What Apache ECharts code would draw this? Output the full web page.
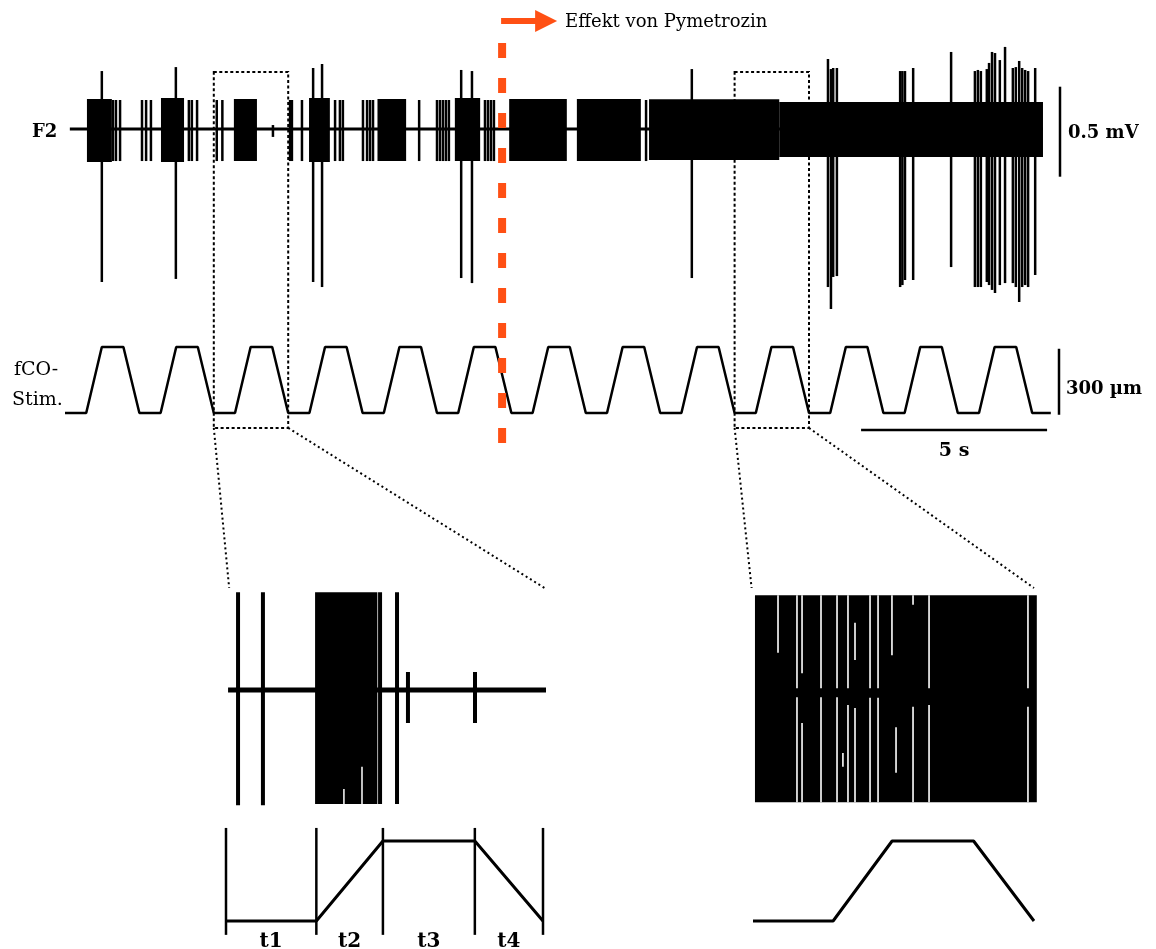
<!DOCTYPE html>
<html><head><meta charset="utf-8">
<script src="https://cdn.jsdelivr.net/npm/echarts@6/dist/echarts.min.js"></script>
<style>html,body{margin:0;padding:0;background:#fff}#c{width:1156px;height:949px}</style>
</head><body><div id="c"></div>
<script>
// ---------------- DATA ----------------
// fCO stimulus (µm): cycle start times (s) and vertex template
const stimCycleStarts = [0, 2, 4, 6, 8, 10, 12, 14, 16, 18, 20, 22, 24];
const stimPhaseTimes  = [0, 0.57, 0.99, 1.57];   // low, ramp-up start, plateau start, ramp-down start
const stimPhaseValues = [0, 0, 300, 300];
const stimTail = [[26.0, 0], [26.5, 0]];

// F2 recording (mV vs s)
const f2Baseline = [[0.13, 0], [26.29, 0]];
// bursts: [tStart, tEnd, top, bottom]
const f2Bursts = [
  [0.59, 1.26, 0.167, -0.183],
  [2.58, 3.20, 0.172, -0.183],
  [4.54, 5.16, 0.167, -0.178],
  [6.56, 7.12, 0.172, -0.183],
  [8.40, 9.17, 0.167, -0.178],
  [10.48, 11.16, 0.172, -0.178],
  [11.94, 13.49, 0.167, -0.178],
  [13.76, 15.48, 0.167, -0.178],
  [15.70, 19.20, 0.165, -0.172],
  [19.20, 26.29, 0.150, -0.156]
];
// single units at burst amplitude: [t, top, bottom]
const f2Units = [
  [1.29, 0.161, -0.178], [1.37, 0.161, -0.178], [1.48, 0.161, -0.178],
  [2.07, 0.161, -0.178], [2.18, 0.161, -0.178], [2.31, 0.161, -0.178],
  [3.33, 0.161, -0.178], [3.41, 0.161, -0.178], [3.55, 0.161, -0.178],
  [4.08, 0.161, -0.178], [4.23, 0.161, -0.178],
  [5.59, 0.022, -0.044],
  [6.05, 0.161, -0.178], [6.10, 0.161, -0.178], [6.37, 0.161, -0.178],
  [7.26, 0.161, -0.178], [7.39, 0.161, -0.178], [7.47, 0.161, -0.178],
  [8.01, 0.161, -0.178], [8.12, 0.161, -0.178], [8.20, 0.161, -0.178], [8.28, 0.161, -0.178],
  [9.52, 0.161, -0.178],
  [10.00, 0.161, -0.178], [10.08, 0.161, -0.178], [10.16, 0.161, -0.178], [10.24, 0.161, -0.178], [10.32, 0.161, -0.178],
  [11.29, 0.161, -0.178], [11.37, 0.161, -0.178], [11.45, 0.161, -0.178], [11.53, 0.161, -0.178],
  [15.62, 0.161, -0.178]
];
// large spikes: [t, top, bottom]
const f2LargeSpikes = [
  [0.99, 0.322, -0.850], [2.98, 0.344, -0.833], [6.67, 0.339, -0.850], [6.91, 0.361, -0.878],
  [10.65, 0.328, -0.828], [10.94, 0.322, -0.856], [16.85, 0.333, -0.828],
  [20.51, 0.389, -0.878], [20.59, 0.333, -1.000], [20.65, 0.339, -0.822], [20.75, 0.339, -0.817],
  [22.45, 0.322, -0.878], [22.51, 0.322, -0.867], [22.58, 0.322, -0.839], [22.80, 0.339, -0.839],
  [23.82, 0.428, -0.767],
  [24.46, 0.322, -0.878], [24.54, 0.328, -0.878], [24.62, 0.322, -0.878], [24.78, 0.333, -0.850],
  [24.84, 0.367, -0.867], [24.92, 0.428, -0.894], [25.00, 0.422, -0.911], [25.13, 0.383, -0.867],
  [25.27, 0.456, -0.856], [25.48, 0.339, -0.856], [25.56, 0.344, -0.878], [25.65, 0.378, -0.961],
  [25.73, 0.339, -0.878], [25.81, 0.328, -0.867], [25.89, 0.322, -0.878], [26.08, 0.339, -0.811]
];

// Zoom window 1 (4–6 s)
const zoom1Window = [4, 6];
const zoom1Baseline = [[4.013, 0], [6.032, 0]];
const zoom1Bursts = [[4.562, 4.955, 0.163, -0.190]];
const zoom1Spikes = [
  [4.076, 0.163, -0.192], [4.233, 0.163, -0.192], [4.972, 0.163, -0.190],
  [5.079, 0.163, -0.190], [5.148, 0.030, -0.055], [5.571, 0.030, -0.055]
];
const zoom1Gaps = [[4.744, -0.165, -0.2], [4.858, -0.128, -0.2]];
const zoomPhaseBounds = [4.0, 4.57, 4.99, 5.57, 6.0];
const zoomPhaseLabels = ['t1', 't2', 't3', 't4'];

// Zoom window 2 (18–20 s)
const zoom2Window = [18, 20];
const zoom2Bursts = [[18.014, 20.02, 0.158, -0.187]];
const zoom2Gaps = [
  [18.178, 0.158, 0.062],
  [18.313, 0.158, 0.003], [18.313, -0.012, -0.187],
  [18.349, 0.158, 0.028], [18.349, -0.055, -0.187],
  [18.484, 0.158, 0.003], [18.484, -0.012, -0.187],
  [18.598, 0.158, 0.003], [18.598, -0.012, -0.187],
  [18.640, -0.105, -0.128],
  [18.676, 0.158, 0.003], [18.676, -0.025, -0.187],
  [18.726, 0.112, 0.050], [18.726, -0.030, -0.187],
  [18.833, 0.158, 0.003], [18.833, -0.013, -0.187],
  [18.890, 0.158, 0.003], [18.890, -0.013, -0.187],
  [18.989, 0.158, 0.058],
  [19.018, -0.062, -0.138],
  [19.139, 0.158, 0.142], [19.139, -0.028, -0.187],
  [19.253, 0.158, 0.003], [19.253, -0.025, -0.187],
  [19.957, 0.158, 0.003], [19.957, -0.028, -0.187]
];

// ---------------- BUILD ----------------
const stimData = [];
stimCycleStarts.forEach(c => stimPhaseTimes.forEach((p, i) => stimData.push([c + p, stimPhaseValues[i]])));
stimTail.forEach(p => stimData.push(p));
const inWindow = w => stimData.filter(p => p[0] >= w[0] - 1e-9 && p[0] <= w[1] + 1e-9);

const chart = echarts.init(document.getElementById('c'), null, {renderer: 'canvas', width: 1156, height: 949});

function rectRenderer(color) {
  return function (params, api) {
    const a = api.coord([api.value(0), api.value(2)]);
    const b = api.coord([api.value(1), api.value(3)]);
    return {type: 'rect', shape: {x: a[0], y: a[1], width: b[0] - a[0], height: b[1] - a[1]}, style: {fill: color}};
  };
}
function vlineRenderer(color, w) {
  return function (params, api) {
    const t = api.value(0);
    const a = api.coord([t, api.value(1)]);
    const b = api.coord([t, api.value(2)]);
    return {type: 'line', shape: {x1: a[0], y1: a[1], x2: b[0], y2: b[1]}, style: {stroke: color, lineWidth: w}};
  };
}
const hid = {show: false, splitLine: {show: false}};
const ax = (g, min, max) => Object.assign({type: 'value', gridIndex: g, min, max}, hid);

const F = "'DejaVu Serif', serif";

chart.setOption({
  animation: false,
  backgroundColor: '#fff',
  grid: [
    {left: 65, top: 39, width: 985.8, height: 288},
    {left: 65, top: 340.4, width: 985.8, height: 79.2},
    {left: 226, top: 588, width: 317, height: 222},
    {left: 226, top: 833, width: 317, height: 96},
    {left: 753, top: 588, width: 281, height: 222},
    {left: 753, top: 833, width: 281, height: 96}
  ],
  xAxis: [ax(0, 0, 26.5), ax(1, 0, 26.5), ax(2, zoom1Window[0], zoom1Window[1]), ax(3, zoom1Window[0], zoom1Window[1]),
          ax(4, zoom2Window[0], zoom2Window[1]), ax(5, zoom2Window[0], zoom2Window[1])],
  yAxis: [ax(0, -1.1, 0.5), ax(1, -30, 330), ax(2, -0.2, 0.17), ax(3, -30, 330), ax(4, -0.2, 0.17), ax(5, -30, 330)],
  series: [
    {type: 'line', xAxisIndex: 0, yAxisIndex: 0, data: f2Baseline, symbol: 'none', lineStyle: {color: '#000', width: 3}, z: 2},
    {type: 'custom', xAxisIndex: 0, yAxisIndex: 0, data: f2Bursts, renderItem: rectRenderer('#000'), z: 3},
    {type: 'custom', xAxisIndex: 0, yAxisIndex: 0, data: f2Units, renderItem: vlineRenderer('#000', 2.5), z: 3},
    {type: 'custom', xAxisIndex: 0, yAxisIndex: 0, data: f2LargeSpikes, renderItem: vlineRenderer('#000', 2.5), z: 3},
    {type: 'line', xAxisIndex: 1, yAxisIndex: 1, data: stimData, symbol: 'none', clip: false, lineStyle: {color: '#000', width: 2.5}},

    {type: 'line', xAxisIndex: 2, yAxisIndex: 2, data: zoom1Baseline, symbol: 'none', clip: false, lineStyle: {color: '#000', width: 5}},
    {type: 'custom', xAxisIndex: 2, yAxisIndex: 2, data: zoom1Bursts, renderItem: rectRenderer('#000'), z: 3},
    {type: 'custom', xAxisIndex: 2, yAxisIndex: 2, data: zoom1Spikes, renderItem: vlineRenderer('#000', 4), z: 3},
    {type: 'custom', xAxisIndex: 2, yAxisIndex: 2, data: zoom1Gaps, renderItem: vlineRenderer('#fff', 1.5), z: 4},
    {type: 'line', xAxisIndex: 3, yAxisIndex: 3, data: inWindow(zoom1Window), symbol: 'none', clip: false, lineStyle: {color: '#000', width: 3}},
    {type: 'custom', xAxisIndex: 3, yAxisIndex: 3, data: zoomPhaseBounds.map(t => [t, 349, -52]), renderItem: vlineRenderer('#000', 2.5), z: 3},

    {type: 'custom', xAxisIndex: 4, yAxisIndex: 4, data: zoom2Bursts, renderItem: rectRenderer('#000'), z: 3},
    {type: 'custom', xAxisIndex: 4, yAxisIndex: 4, data: zoom2Gaps, renderItem: vlineRenderer('#fff', 1.6), z: 4},
    {type: 'line', xAxisIndex: 5, yAxisIndex: 5, data: inWindow(zoom2Window), symbol: 'none', clip: false, lineStyle: {color: '#000', width: 3}}
  ]
});

// ---------------- ANNOTATIONS ----------------
const px = (g, x, y) => chart.convertToPixel({gridIndex: g}, [x, y]);
const dot = {stroke: '#000', lineWidth: 2, lineDash: [3, 2.5], fill: null};
const g = [];
function dottedRect(t0, t1) {
  const x0 = px(0, t0, 0)[0], x1 = px(0, t1, 0)[0];
  const y0 = px(0, t0, 0.317)[1], y1 = px(1, t0, -68)[1];
  g.push({type: 'rect', shape: {x: x0, y: y0, width: x1 - x0, height: y1 - y0}, style: dot, z: 10});
  return [x0, x1, y1];
}
function connector(a, b) {
  g.push({type: 'line', shape: {x1: a[0], y1: a[1], x2: b[0], y2: b[1]}, style: {stroke: '#000', lineWidth: 2, lineDash: [2, 3]}, z: 10});
}
const r1 = dottedRect(zoom1Window[0], zoom1Window[1]);
connector([r1[0], r1[2]], px(2, 4.02, 0.17));
connector([r1[1], r1[2]], px(2, 6.01, 0.17));
const r2 = dottedRect(zoom2Window[0], zoom2Window[1]);
connector([r2[0], r2[2]], px(4, 17.99, 0.17));
connector([r2[1], r2[2]], px(4, 20.0, 0.17));

// Pymetrozine onset
const tPym = 11.75;
const xo = px(0, tPym, 0)[0];
g.push({type: 'line', shape: {x1: xo, y1: px(0, tPym, 0.478)[1], x2: xo, y2: px(1, tPym, -159)[1]},
  style: {stroke: '#ff5014', lineWidth: 8, lineDash: [15, 20]}, z: 12});
g.push({type: 'line', shape: {x1: xo - 1, y1: 21, x2: xo + 35, y2: 21}, style: {stroke: '#ff5014', lineWidth: 6}, z: 12});
g.push({type: 'polygon', shape: {points: [[xo + 33, 10], [xo + 55, 21], [xo + 33, 32]]}, style: {fill: '#ff5014'}, z: 12});
function txt(s, x, y, size, weight, align) {
  g.push({type: 'text', x: x, y: y, z: 12, style: {text: s, font: (weight || 'normal') + ' ' + size + 'px ' + F,
    fill: '#000', align: align || 'left', textAlign: align || 'left', verticalAlign: 'middle', textVerticalAlign: 'middle'}});
}
txt('Effekt von Pymetrozin', xo + 63, 22, 18, 'normal');

// scale bars
const sbx = 1060;
g.push({type: 'line', shape: {x1: sbx, y1: px(0, 0, 0.235)[1], x2: sbx, y2: px(0, 0, -0.265)[1]}, style: {stroke: '#000', lineWidth: 2.5}});
g.push({type: 'line', shape: {x1: 1059, y1: px(1, 0, 292)[1], x2: 1059, y2: px(1, 0, -8)[1]}, style: {stroke: '#000', lineWidth: 2.5}});
const yb = px(1, 0, -77)[1];
g.push({type: 'line', shape: {x1: px(0, 21.4, 0)[0], y1: yb, x2: px(0, 26.4, 0)[0], y2: yb}, style: {stroke: '#000', lineWidth: 2.5}});

// labels
txt('F2', 32, 132, 18, 'bold');
txt('fCO-', 14, 370, 19, 'normal');
txt('Stim.', 12, 400, 19, 'normal');
txt('0.5 mV', 1068, 133, 18, 'bold');
txt('300 µm', 1066, 389, 18, 'bold');
txt('5 s', px(0, 23.9, 0)[0], 451, 19, 'bold', 'center');
zoomPhaseLabels.forEach((s, i) => {
  const xm = px(3, (zoomPhaseBounds[i] + zoomPhaseBounds[i + 1]) / 2, 0)[0];
  txt(s, xm, 942, 20, 'bold', 'center');
});

chart.setOption({graphic: g});
</script></body></html>
